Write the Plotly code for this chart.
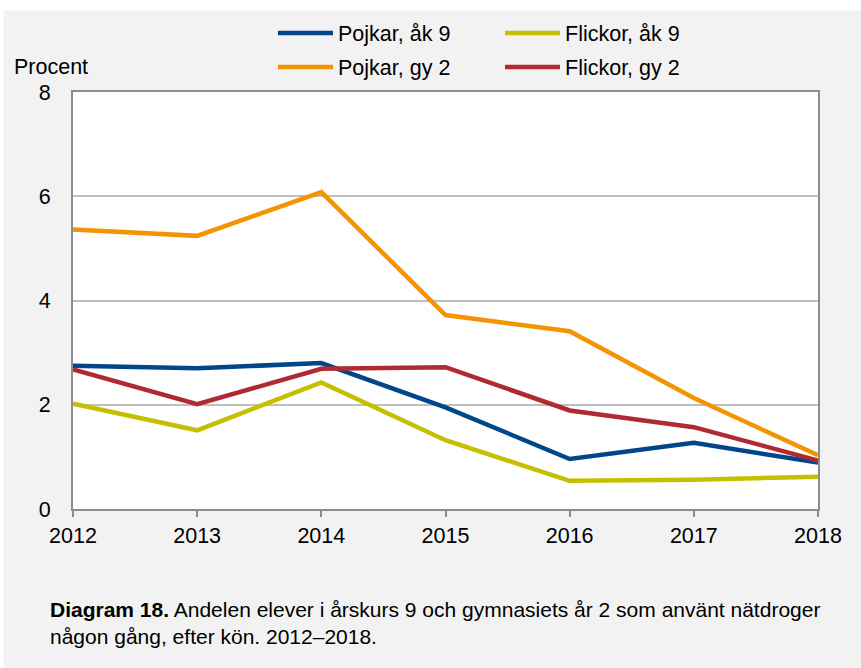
import plotly.graph_objects as go

years = [2012, 2013, 2014, 2015, 2016, 2017, 2018]
pojkar_ak9 = [2.75, 2.70, 2.80, 1.95, 0.96, 1.27, 0.89]
flickor_ak9 = [2.02, 1.51, 2.43, 1.32, 0.54, 0.56, 0.62]
pojkar_gy2 = [5.36, 5.24, 6.08, 3.72, 3.41, 2.13, 1.03]
flickor_gy2 = [2.68, 2.01, 2.69, 2.72, 1.89, 1.57, 0.93]

y_ticks = [0, 2, 4, 6, 8]

FONT = "Liberation Sans, Arial, sans-serif"
FS = 21.5

series = [
    ("Pojkar, åk 9", pojkar_ak9, "#02468a", "legend"),
    ("Flickor, åk 9", flickor_ak9, "#c4c000", "legend"),
    ("Pojkar, gy 2", pojkar_gy2, "#f39400", "legend2"),
    ("Flickor, gy 2", flickor_gy2, "#b12a33", "legend2"),
]

fig = go.Figure()
for name, vals, color, leg in series:
    fig.add_trace(go.Scatter(
        x=years, y=vals, name=name, mode="lines",
        line=dict(color=color, width=4.5), legend=leg,
    ))

L, R, T, B = 73, 43, 92, 159
W, H = 861, 668
pw = W - L - R
ph = H - T - B

def px_x(px):
    return (px - L) / pw

def px_y(py):
    return (H - B - py) / ph

leg_common = dict(
    orientation="h", xanchor="left", yanchor="middle",
    font=dict(family=FONT, size=FS, color="#000000"),
    bgcolor="rgba(0,0,0,0)", entrywidth=157, entrywidthmode="pixels",
    itemwidth=55, traceorder="normal",
)

fig.update_layout(
    width=W, height=H,
    margin=dict(l=L, r=R, t=T, b=B),
    paper_bgcolor="#f2f2f2",
    plot_bgcolor="#ffffff",
    font=dict(family=FONT, size=FS, color="#000000"),
    showlegend=True,
    legend=dict(x=px_x(273), y=px_y(33), **leg_common),
    legend2=dict(x=px_x(273), y=px_y(67), **leg_common),
    xaxis=dict(
        range=[2012, 2018], tickvals=years, ticktext=[str(y) for y in years],
        showgrid=False, zeroline=False,
        showline=True, linecolor="#8c8c8c", linewidth=2, mirror=True,
        ticks="outside", ticklen=6, tickwidth=2, tickcolor="#8c8c8c",
        tickfont=dict(family=FONT, size=FS, color="#000000"),
    ),
    yaxis=dict(
        range=[0, 8], tickvals=y_ticks, ticktext=[str(v) for v in y_ticks],
        showgrid=True, gridcolor="#bfbfbf", gridwidth=2, zeroline=False,
        showline=True, linecolor="#8c8c8c", linewidth=2, mirror=True,
        ticks="outside", ticklen=16, tickcolor="rgba(0,0,0,0)",
        tickfont=dict(family=FONT, size=FS, color="#000000"),
    ),
    annotations=[
        dict(text="Procent", xref="paper", yref="paper",
             x=px_x(12), y=px_y(67), xanchor="left", yanchor="middle",
             showarrow=False, font=dict(family=FONT, size=FS, color="#000000")),
        dict(text="<b>Diagram 18.</b> Andelen elever i årskurs 9 och gymnasiets år 2 som använt nätdroger<br>någon gång, efter kön. 2012–2018.",
             xref="paper", yref="paper", x=px_x(48), y=px_y(596),
             xanchor="left", yanchor="top", align="left",
             showarrow=False, font=dict(family=FONT, size=21, color="#000000")),
    ],
    shapes=[
        dict(type="rect", xref="paper", yref="paper",
             x0=px_x(0), x1=px_x(W), y0=px_y(10.5), y1=px_y(0),
             fillcolor="#ffffff", line=dict(width=0), layer="below"),
        dict(type="rect", xref="paper", yref="paper",
             x0=px_x(0), x1=px_x(3.5), y0=px_y(H), y1=px_y(0),
             fillcolor="#ffffff", line=dict(width=0), layer="below"),
    ],
)

fig.write_html("out.html", config={"displayModeBar": False},
               post_script="document.body.style.margin='0';")
